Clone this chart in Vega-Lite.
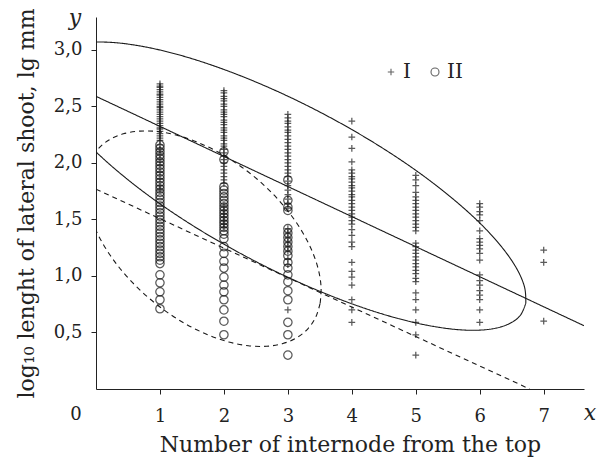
{
  "$schema": "https://vega.github.io/schema/vega-lite/v6.json",
  "width": 488,
  "height": 372,
  "autosize": {"type": "none"},
  "padding": {"left": 96, "top": 17, "right": 21, "bottom": 70},
  "background": "white",
  "config": {
    "font": "DejaVu Serif",
    "view": {"stroke": null},
    "axis": {
      "grid": false,
      "domainColor": "#222",
      "tickColor": "#222",
      "labelColor": "#222",
      "titleColor": "#222",
      "labelFont": "DejaVu Serif",
      "titleFont": "DejaVu Serif",
      "labelFontSize": 18,
      "titleFontSize": 22,
      "titleFontWeight": "normal",
      "tickSize": 5,
      "domainWidth": 1,
      "tickWidth": 1
    },
    "legend": {
      "labelColor": "#222",
      "labelFont": "DejaVu Serif",
      "labelFontSize": 20,
      "labelOffset": 2,
      "columnPadding": 14,
      "symbolSize": 64,
      "symbolStrokeWidth": 1.1,
      "symbolStrokeColor": "#222"
    }
  },
  "datasets": {
    "curves": [
      {"c": "eI", "s": "solid", "t": 0, "x": 6.720, "y": 0.760},
      {"c": "eI", "s": "solid", "t": 10, "x": 6.699, "y": 0.905},
      {"c": "eI", "s": "solid", "t": 20, "x": 6.566, "y": 1.077},
      {"c": "eI", "s": "solid", "t": 30, "x": 6.323, "y": 1.271},
      {"c": "eI", "s": "solid", "t": 40, "x": 5.979, "y": 1.481},
      {"c": "eI", "s": "solid", "t": 50, "x": 5.543, "y": 1.700},
      {"c": "eI", "s": "solid", "t": 60, "x": 5.030, "y": 1.923},
      {"c": "eI", "s": "solid", "t": 70, "x": 4.455, "y": 2.141},
      {"c": "eI", "s": "solid", "t": 80, "x": 3.834, "y": 2.349},
      {"c": "eI", "s": "solid", "t": 90, "x": 3.188, "y": 2.540},
      {"c": "eI", "s": "solid", "t": 100, "x": 2.536, "y": 2.708},
      {"c": "eI", "s": "solid", "t": 110, "x": 1.896, "y": 2.849},
      {"c": "eI", "s": "solid", "t": 120, "x": 1.290, "y": 2.958},
      {"c": "eI", "s": "solid", "t": 130, "x": 0.735, "y": 3.031},
      {"c": "eI", "s": "solid", "t": 140, "x": 0.249, "y": 3.067},
      {"c": "eI", "s": "solid", "t": 150, "x": -0.155, "y": 3.064},
      {"c": "eI", "s": "solid", "t": 160, "x": -0.463, "y": 3.022},
      {"c": "eI", "s": "solid", "t": 170, "x": -0.667, "y": 2.944},
      {"c": "eI", "s": "solid", "t": 180, "x": -0.760, "y": 2.830},
      {"c": "eI", "s": "solid", "t": 190, "x": -0.739, "y": 2.685},
      {"c": "eI", "s": "solid", "t": 200, "x": -0.606, "y": 2.513},
      {"c": "eI", "s": "solid", "t": 210, "x": -0.363, "y": 2.319},
      {"c": "eI", "s": "solid", "t": 220, "x": -0.019, "y": 2.109},
      {"c": "eI", "s": "solid", "t": 230, "x": 0.417, "y": 1.890},
      {"c": "eI", "s": "solid", "t": 240, "x": 0.930, "y": 1.667},
      {"c": "eI", "s": "solid", "t": 250, "x": 1.505, "y": 1.449},
      {"c": "eI", "s": "solid", "t": 260, "x": 2.126, "y": 1.241},
      {"c": "eI", "s": "solid", "t": 270, "x": 2.772, "y": 1.050},
      {"c": "eI", "s": "solid", "t": 280, "x": 3.425, "y": 0.882},
      {"c": "eI", "s": "solid", "t": 290, "x": 4.064, "y": 0.741},
      {"c": "eI", "s": "solid", "t": 300, "x": 4.670, "y": 0.632},
      {"c": "eI", "s": "solid", "t": 310, "x": 5.225, "y": 0.559},
      {"c": "eI", "s": "solid", "t": 320, "x": 5.711, "y": 0.523},
      {"c": "eI", "s": "solid", "t": 330, "x": 6.115, "y": 0.526},
      {"c": "eI", "s": "solid", "t": 340, "x": 6.423, "y": 0.568},
      {"c": "eI", "s": "solid", "t": 350, "x": 6.627, "y": 0.646},
      {"c": "eI", "s": "solid", "t": 360, "x": 6.720, "y": 0.760},
      {"c": "eII", "s": "dashed", "t": 0, "x": 3.505, "y": 0.760},
      {"c": "eII", "s": "dashed", "t": 10, "x": 3.519, "y": 0.902},
      {"c": "eII", "s": "dashed", "t": 20, "x": 3.477, "y": 1.056},
      {"c": "eII", "s": "dashed", "t": 30, "x": 3.380, "y": 1.219},
      {"c": "eII", "s": "dashed", "t": 40, "x": 3.231, "y": 1.385},
      {"c": "eII", "s": "dashed", "t": 50, "x": 3.035, "y": 1.550},
      {"c": "eII", "s": "dashed", "t": 60, "x": 2.798, "y": 1.708},
      {"c": "eII", "s": "dashed", "t": 70, "x": 2.526, "y": 1.854},
      {"c": "eII", "s": "dashed", "t": 80, "x": 2.229, "y": 1.984},
      {"c": "eII", "s": "dashed", "t": 90, "x": 1.915, "y": 2.095},
      {"c": "eII", "s": "dashed", "t": 100, "x": 1.594, "y": 2.182},
      {"c": "eII", "s": "dashed", "t": 110, "x": 1.275, "y": 2.244},
      {"c": "eII", "s": "dashed", "t": 120, "x": 0.968, "y": 2.278},
      {"c": "eII", "s": "dashed", "t": 130, "x": 0.683, "y": 2.282},
      {"c": "eII", "s": "dashed", "t": 140, "x": 0.428, "y": 2.258},
      {"c": "eII", "s": "dashed", "t": 150, "x": 0.210, "y": 2.206},
      {"c": "eII", "s": "dashed", "t": 160, "x": 0.037, "y": 2.127},
      {"c": "eII", "s": "dashed", "t": 170, "x": -0.086, "y": 2.024},
      {"c": "eII", "s": "dashed", "t": 180, "x": -0.155, "y": 1.900},
      {"c": "eII", "s": "dashed", "t": 190, "x": -0.169, "y": 1.759},
      {"c": "eII", "s": "dashed", "t": 200, "x": -0.127, "y": 1.604},
      {"c": "eII", "s": "dashed", "t": 210, "x": -0.030, "y": 1.441},
      {"c": "eII", "s": "dashed", "t": 220, "x": 0.119, "y": 1.275},
      {"c": "eII", "s": "dashed", "t": 230, "x": 0.315, "y": 1.110},
      {"c": "eII", "s": "dashed", "t": 240, "x": 0.552, "y": 0.953},
      {"c": "eII", "s": "dashed", "t": 250, "x": 0.824, "y": 0.806},
      {"c": "eII", "s": "dashed", "t": 260, "x": 1.121, "y": 0.676},
      {"c": "eII", "s": "dashed", "t": 270, "x": 1.435, "y": 0.565},
      {"c": "eII", "s": "dashed", "t": 280, "x": 1.756, "y": 0.478},
      {"c": "eII", "s": "dashed", "t": 290, "x": 2.075, "y": 0.416},
      {"c": "eII", "s": "dashed", "t": 300, "x": 2.382, "y": 0.383},
      {"c": "eII", "s": "dashed", "t": 310, "x": 2.668, "y": 0.378},
      {"c": "eII", "s": "dashed", "t": 320, "x": 2.922, "y": 0.402},
      {"c": "eII", "s": "dashed", "t": 330, "x": 3.140, "y": 0.454},
      {"c": "eII", "s": "dashed", "t": 340, "x": 3.313, "y": 0.533},
      {"c": "eII", "s": "dashed", "t": 350, "x": 3.436, "y": 0.636},
      {"c": "eII", "s": "dashed", "t": 360, "x": 3.505, "y": 0.760},
      {"c": "rI", "s": "solid", "t": 0, "x": 0, "y": 2.59},
      {"c": "rI", "s": "solid", "t": 1, "x": 7.63, "y": 0.56},
      {"c": "rII", "s": "dashed", "t": 0, "x": 0, "y": 1.768},
      {"c": "rII", "s": "dashed", "t": 1, "x": 6.78, "y": 0}
    ],
    "points": [
      {"g": "II", "x": 1, "y": 2.16}, {"g": "II", "x": 1, "y": 2.13}, {"g": "II", "x": 1, "y": 2.10}, {"g": "II", "x": 1, "y": 2.07},
      {"g": "II", "x": 1, "y": 2.04}, {"g": "II", "x": 1, "y": 2.01}, {"g": "II", "x": 1, "y": 1.98}, {"g": "II", "x": 1, "y": 1.95},
      {"g": "II", "x": 1, "y": 1.92}, {"g": "II", "x": 1, "y": 1.89}, {"g": "II", "x": 1, "y": 1.86}, {"g": "II", "x": 1, "y": 1.83},
      {"g": "II", "x": 1, "y": 1.80}, {"g": "II", "x": 1, "y": 1.77}, {"g": "II", "x": 1, "y": 1.74}, {"g": "II", "x": 1, "y": 1.71},
      {"g": "II", "x": 1, "y": 1.68}, {"g": "II", "x": 1, "y": 1.65}, {"g": "II", "x": 1, "y": 1.62}, {"g": "II", "x": 1, "y": 1.59},
      {"g": "II", "x": 1, "y": 1.56}, {"g": "II", "x": 1, "y": 1.53}, {"g": "II", "x": 1, "y": 1.50}, {"g": "II", "x": 1, "y": 1.47},
      {"g": "II", "x": 1, "y": 1.44}, {"g": "II", "x": 1, "y": 1.41}, {"g": "II", "x": 1, "y": 1.38}, {"g": "II", "x": 1, "y": 1.35},
      {"g": "II", "x": 1, "y": 1.32}, {"g": "II", "x": 1, "y": 1.29}, {"g": "II", "x": 1, "y": 1.26}, {"g": "II", "x": 1, "y": 1.23},
      {"g": "II", "x": 1, "y": 1.20}, {"g": "II", "x": 1, "y": 1.17}, {"g": "II", "x": 1, "y": 1.14}, {"g": "II", "x": 1, "y": 1.11},
      {"g": "II", "x": 1, "y": 1.01}, {"g": "II", "x": 1, "y": 0.94}, {"g": "II", "x": 1, "y": 0.86}, {"g": "II", "x": 1, "y": 0.79},
      {"g": "II", "x": 1, "y": 0.71},
      {"g": "II", "x": 2, "y": 2.10}, {"g": "II", "x": 2, "y": 2.03}, {"g": "II", "x": 2, "y": 1.79}, {"g": "II", "x": 2, "y": 1.76},
      {"g": "II", "x": 2, "y": 1.73}, {"g": "II", "x": 2, "y": 1.70}, {"g": "II", "x": 2, "y": 1.67}, {"g": "II", "x": 2, "y": 1.64},
      {"g": "II", "x": 2, "y": 1.61}, {"g": "II", "x": 2, "y": 1.58}, {"g": "II", "x": 2, "y": 1.55}, {"g": "II", "x": 2, "y": 1.52},
      {"g": "II", "x": 2, "y": 1.49}, {"g": "II", "x": 2, "y": 1.46}, {"g": "II", "x": 2, "y": 1.43}, {"g": "II", "x": 2, "y": 1.40},
      {"g": "II", "x": 2, "y": 1.37}, {"g": "II", "x": 2, "y": 1.33}, {"g": "II", "x": 2, "y": 1.26}, {"g": "II", "x": 2, "y": 1.20},
      {"g": "II", "x": 2, "y": 1.13}, {"g": "II", "x": 2, "y": 1.07}, {"g": "II", "x": 2, "y": 0.99}, {"g": "II", "x": 2, "y": 0.92},
      {"g": "II", "x": 2, "y": 0.86}, {"g": "II", "x": 2, "y": 0.79}, {"g": "II", "x": 2, "y": 0.70}, {"g": "II", "x": 2, "y": 0.60},
      {"g": "II", "x": 2, "y": 0.48},
      {"g": "II", "x": 3, "y": 1.85}, {"g": "II", "x": 3, "y": 1.67}, {"g": "II", "x": 3, "y": 1.61}, {"g": "II", "x": 3, "y": 1.58},
      {"g": "II", "x": 3, "y": 1.42}, {"g": "II", "x": 3, "y": 1.38}, {"g": "II", "x": 3, "y": 1.34}, {"g": "II", "x": 3, "y": 1.30},
      {"g": "II", "x": 3, "y": 1.26}, {"g": "II", "x": 3, "y": 1.22}, {"g": "II", "x": 3, "y": 1.18}, {"g": "II", "x": 3, "y": 1.12},
      {"g": "II", "x": 3, "y": 1.07}, {"g": "II", "x": 3, "y": 1.01}, {"g": "II", "x": 3, "y": 0.95}, {"g": "II", "x": 3, "y": 0.87},
      {"g": "II", "x": 3, "y": 0.79}, {"g": "II", "x": 3, "y": 0.59}, {"g": "II", "x": 3, "y": 0.48}, {"g": "II", "x": 3, "y": 0.30},
      {"g": "I", "x": 1, "y": 2.70}, {"g": "I", "x": 1, "y": 2.68}, {"g": "I", "x": 1, "y": 2.67}, {"g": "I", "x": 1, "y": 2.65},
      {"g": "I", "x": 1, "y": 2.63}, {"g": "I", "x": 1, "y": 2.61}, {"g": "I", "x": 1, "y": 2.60}, {"g": "I", "x": 1, "y": 2.58},
      {"g": "I", "x": 1, "y": 2.56}, {"g": "I", "x": 1, "y": 2.54}, {"g": "I", "x": 1, "y": 2.52}, {"g": "I", "x": 1, "y": 2.50},
      {"g": "I", "x": 1, "y": 2.49}, {"g": "I", "x": 1, "y": 2.47}, {"g": "I", "x": 1, "y": 2.45}, {"g": "I", "x": 1, "y": 2.43},
      {"g": "I", "x": 1, "y": 2.41}, {"g": "I", "x": 1, "y": 2.39}, {"g": "I", "x": 1, "y": 2.37}, {"g": "I", "x": 1, "y": 2.35},
      {"g": "I", "x": 1, "y": 2.33}, {"g": "I", "x": 1, "y": 2.31}, {"g": "I", "x": 1, "y": 2.30}, {"g": "I", "x": 1, "y": 2.28},
      {"g": "I", "x": 1, "y": 2.26}, {"g": "I", "x": 1, "y": 2.24}, {"g": "I", "x": 1, "y": 2.22}, {"g": "I", "x": 1, "y": 2.20},
      {"g": "I", "x": 1, "y": 2.16}, {"g": "I", "x": 1, "y": 2.12}, {"g": "I", "x": 1, "y": 2.08}, {"g": "I", "x": 1, "y": 2.03},
      {"g": "I", "x": 1, "y": 1.98}, {"g": "I", "x": 1, "y": 1.92}, {"g": "I", "x": 1, "y": 1.86}, {"g": "I", "x": 1, "y": 1.80},
      {"g": "I", "x": 1, "y": 1.76},
      {"g": "I", "x": 2, "y": 2.64}, {"g": "I", "x": 2, "y": 2.62}, {"g": "I", "x": 2, "y": 2.59}, {"g": "I", "x": 2, "y": 2.57},
      {"g": "I", "x": 2, "y": 2.55}, {"g": "I", "x": 2, "y": 2.52}, {"g": "I", "x": 2, "y": 2.50}, {"g": "I", "x": 2, "y": 2.47},
      {"g": "I", "x": 2, "y": 2.45}, {"g": "I", "x": 2, "y": 2.43}, {"g": "I", "x": 2, "y": 2.41}, {"g": "I", "x": 2, "y": 2.38},
      {"g": "I", "x": 2, "y": 2.36}, {"g": "I", "x": 2, "y": 2.34}, {"g": "I", "x": 2, "y": 2.31}, {"g": "I", "x": 2, "y": 2.29},
      {"g": "I", "x": 2, "y": 2.27}, {"g": "I", "x": 2, "y": 2.24}, {"g": "I", "x": 2, "y": 2.22}, {"g": "I", "x": 2, "y": 2.20},
      {"g": "I", "x": 2, "y": 2.17}, {"g": "I", "x": 2, "y": 2.15}, {"g": "I", "x": 2, "y": 2.12}, {"g": "I", "x": 2, "y": 2.09},
      {"g": "I", "x": 2, "y": 2.06}, {"g": "I", "x": 2, "y": 2.03}, {"g": "I", "x": 2, "y": 2.00}, {"g": "I", "x": 2, "y": 1.97},
      {"g": "I", "x": 2, "y": 1.94}, {"g": "I", "x": 2, "y": 1.91}, {"g": "I", "x": 2, "y": 1.88}, {"g": "I", "x": 2, "y": 1.85},
      {"g": "I", "x": 2, "y": 1.82}, {"g": "I", "x": 2, "y": 1.62}, {"g": "I", "x": 2, "y": 1.58}, {"g": "I", "x": 2, "y": 1.55},
      {"g": "I", "x": 2, "y": 1.52}, {"g": "I", "x": 2, "y": 1.49}, {"g": "I", "x": 2, "y": 1.46}, {"g": "I", "x": 2, "y": 1.43},
      {"g": "I", "x": 3, "y": 2.43}, {"g": "I", "x": 3, "y": 2.40}, {"g": "I", "x": 3, "y": 2.37}, {"g": "I", "x": 3, "y": 2.35},
      {"g": "I", "x": 3, "y": 2.32}, {"g": "I", "x": 3, "y": 2.29}, {"g": "I", "x": 3, "y": 2.27}, {"g": "I", "x": 3, "y": 2.24},
      {"g": "I", "x": 3, "y": 2.21}, {"g": "I", "x": 3, "y": 2.18}, {"g": "I", "x": 3, "y": 2.15}, {"g": "I", "x": 3, "y": 2.12},
      {"g": "I", "x": 3, "y": 2.09}, {"g": "I", "x": 3, "y": 2.06}, {"g": "I", "x": 3, "y": 2.03}, {"g": "I", "x": 3, "y": 2.00},
      {"g": "I", "x": 3, "y": 1.97}, {"g": "I", "x": 3, "y": 1.94}, {"g": "I", "x": 3, "y": 1.91}, {"g": "I", "x": 3, "y": 1.88},
      {"g": "I", "x": 3, "y": 1.84}, {"g": "I", "x": 3, "y": 1.80}, {"g": "I", "x": 3, "y": 1.76}, {"g": "I", "x": 3, "y": 1.72},
      {"g": "I", "x": 3, "y": 1.68}, {"g": "I", "x": 3, "y": 1.64}, {"g": "I", "x": 3, "y": 1.60}, {"g": "I", "x": 3, "y": 1.42},
      {"g": "I", "x": 3, "y": 1.38}, {"g": "I", "x": 3, "y": 1.34}, {"g": "I", "x": 3, "y": 1.30}, {"g": "I", "x": 3, "y": 1.26},
      {"g": "I", "x": 3, "y": 1.22}, {"g": "I", "x": 3, "y": 1.15}, {"g": "I", "x": 3, "y": 1.10}, {"g": "I", "x": 3, "y": 0.70},
      {"g": "I", "x": 4, "y": 2.37}, {"g": "I", "x": 4, "y": 2.23}, {"g": "I", "x": 4, "y": 2.13}, {"g": "I", "x": 4, "y": 2.01},
      {"g": "I", "x": 4, "y": 1.94}, {"g": "I", "x": 4, "y": 1.91}, {"g": "I", "x": 4, "y": 1.88}, {"g": "I", "x": 4, "y": 1.86},
      {"g": "I", "x": 4, "y": 1.83}, {"g": "I", "x": 4, "y": 1.80}, {"g": "I", "x": 4, "y": 1.78}, {"g": "I", "x": 4, "y": 1.75},
      {"g": "I", "x": 4, "y": 1.72}, {"g": "I", "x": 4, "y": 1.70}, {"g": "I", "x": 4, "y": 1.67}, {"g": "I", "x": 4, "y": 1.64},
      {"g": "I", "x": 4, "y": 1.61}, {"g": "I", "x": 4, "y": 1.58}, {"g": "I", "x": 4, "y": 1.55}, {"g": "I", "x": 4, "y": 1.52},
      {"g": "I", "x": 4, "y": 1.49}, {"g": "I", "x": 4, "y": 1.46}, {"g": "I", "x": 4, "y": 1.41}, {"g": "I", "x": 4, "y": 1.36},
      {"g": "I", "x": 4, "y": 1.30}, {"g": "I", "x": 4, "y": 1.26}, {"g": "I", "x": 4, "y": 1.12}, {"g": "I", "x": 4, "y": 1.04},
      {"g": "I", "x": 4, "y": 0.99}, {"g": "I", "x": 4, "y": 0.92}, {"g": "I", "x": 4, "y": 0.79}, {"g": "I", "x": 4, "y": 0.70},
      {"g": "I", "x": 4, "y": 0.59},
      {"g": "I", "x": 5, "y": 1.89}, {"g": "I", "x": 5, "y": 1.85}, {"g": "I", "x": 5, "y": 1.80}, {"g": "I", "x": 5, "y": 1.74},
      {"g": "I", "x": 5, "y": 1.70}, {"g": "I", "x": 5, "y": 1.67}, {"g": "I", "x": 5, "y": 1.64}, {"g": "I", "x": 5, "y": 1.61},
      {"g": "I", "x": 5, "y": 1.58}, {"g": "I", "x": 5, "y": 1.55}, {"g": "I", "x": 5, "y": 1.52}, {"g": "I", "x": 5, "y": 1.49},
      {"g": "I", "x": 5, "y": 1.46}, {"g": "I", "x": 5, "y": 1.43}, {"g": "I", "x": 5, "y": 1.40}, {"g": "I", "x": 5, "y": 1.29},
      {"g": "I", "x": 5, "y": 1.26}, {"g": "I", "x": 5, "y": 1.23}, {"g": "I", "x": 5, "y": 1.20}, {"g": "I", "x": 5, "y": 1.17},
      {"g": "I", "x": 5, "y": 1.14}, {"g": "I", "x": 5, "y": 1.11}, {"g": "I", "x": 5, "y": 1.08}, {"g": "I", "x": 5, "y": 1.05},
      {"g": "I", "x": 5, "y": 1.02}, {"g": "I", "x": 5, "y": 0.98}, {"g": "I", "x": 5, "y": 0.95}, {"g": "I", "x": 5, "y": 0.85},
      {"g": "I", "x": 5, "y": 0.79}, {"g": "I", "x": 5, "y": 0.70}, {"g": "I", "x": 5, "y": 0.59}, {"g": "I", "x": 5, "y": 0.48},
      {"g": "I", "x": 5, "y": 0.30},
      {"g": "I", "x": 6, "y": 1.64}, {"g": "I", "x": 6, "y": 1.61}, {"g": "I", "x": 6, "y": 1.57}, {"g": "I", "x": 6, "y": 1.54},
      {"g": "I", "x": 6, "y": 1.49}, {"g": "I", "x": 6, "y": 1.40}, {"g": "I", "x": 6, "y": 1.33}, {"g": "I", "x": 6, "y": 1.30},
      {"g": "I", "x": 6, "y": 1.27}, {"g": "I", "x": 6, "y": 1.24}, {"g": "I", "x": 6, "y": 1.20}, {"g": "I", "x": 6, "y": 1.14},
      {"g": "I", "x": 6, "y": 1.01}, {"g": "I", "x": 6, "y": 0.96}, {"g": "I", "x": 6, "y": 0.92}, {"g": "I", "x": 6, "y": 0.87},
      {"g": "I", "x": 6, "y": 0.83}, {"g": "I", "x": 6, "y": 0.79}, {"g": "I", "x": 6, "y": 0.70}, {"g": "I", "x": 6, "y": 0.59},
      {"g": "I", "x": 7, "y": 1.23}, {"g": "I", "x": 7, "y": 1.12}, {"g": "I", "x": 7, "y": 0.60}
    ]
  },
  "layer": [
    {
      "data": {"name": "points"},
      "mark": {"type": "point", "filled": false, "strokeWidth": 1.25, "color": "#151515", "size": 70},
      "encoding": {
        "x": {
          "field": "x", "type": "quantitative",
          "scale": {"domain": [0, 7.63], "nice": false, "zero": false},
          "axis": {
            "values": [1, 2, 3, 4, 5, 6, 7], "format": "d", "labelPadding": 13,
            "title": "Number of internode from the top",
            "titleX": 254, "titleY": 62, "titleBaseline": "alphabetic", "titleAlign": "center"
          }
        },
        "y": {
          "field": "y", "type": "quantitative",
          "scale": {"domain": [0, 3.292], "nice": false},
          "axis": {
            "values": [0.5, 1, 1.5, 2, 2.5, 3],
            "labelExpr": "replace(format(datum.value, '.1f'), '.', ',')",
            "labelPadding": 9,
            "title": "log₁₀ lenght of lateral shoot, lg mm",
            "titleAngle": -90, "titleX": -63, "titleY": 186,
            "titleBaseline": "alphabetic", "titleAlign": "center"
          }
        },
        "shape": {
          "field": "g", "type": "nominal", "title": null,
          "scale": {"domain": ["I", "II"], "range": ["M-0.8,0L0.8,0M0,-0.8L0,0.8", "circle"]},
          "legend": {"orient": "none", "direction": "horizontal", "legendX": 285, "legendY": 45}
        }
      }
    },
    {
      "data": {"name": "curves"},
      "mark": {"type": "line", "clip": true, "interpolate": "cardinal", "strokeWidth": 1.1, "color": "#1a1a1a"},
      "encoding": {
        "x": {"field": "x", "type": "quantitative", "scale": {"domain": [0, 7.63], "nice": false, "zero": false}},
        "y": {"field": "y", "type": "quantitative", "scale": {"domain": [0, 3.292], "nice": false}},
        "detail": {"field": "c"},
        "order": {"field": "t", "type": "quantitative"},
        "strokeDash": {"field": "s", "type": "nominal", "scale": {"domain": ["solid", "dashed"], "range": [[1, 0], [5, 4]]}, "legend": null}
      }
    },
    {
      "data": {"values": [{"label": "0"}]},
      "mark": {"type": "text", "fontSize": 18, "color": "#222", "align": "center", "baseline": "alphabetic", "dx": -20, "dy": 31},
      "encoding": {"x": {"datum": 0}, "y": {"datum": 0}, "text": {"field": "label"}}
    },
    {
      "data": {"values": [{"label": "x"}]},
      "mark": {"type": "text", "fontSize": 22, "fontStyle": "italic", "color": "#222", "align": "center", "baseline": "alphabetic", "dx": 6, "dy": 31},
      "encoding": {"x": {"datum": 7.63}, "y": {"datum": 0}, "text": {"field": "label"}}
    },
    {
      "data": {"values": [{"label": "y"}]},
      "mark": {"type": "text", "fontSize": 22, "fontStyle": "italic", "color": "#222", "align": "center", "baseline": "alphabetic", "dx": -21, "dy": 8},
      "encoding": {"x": {"datum": 0}, "y": {"datum": 3.292}, "text": {"field": "label"}}
    }
  ]
}
